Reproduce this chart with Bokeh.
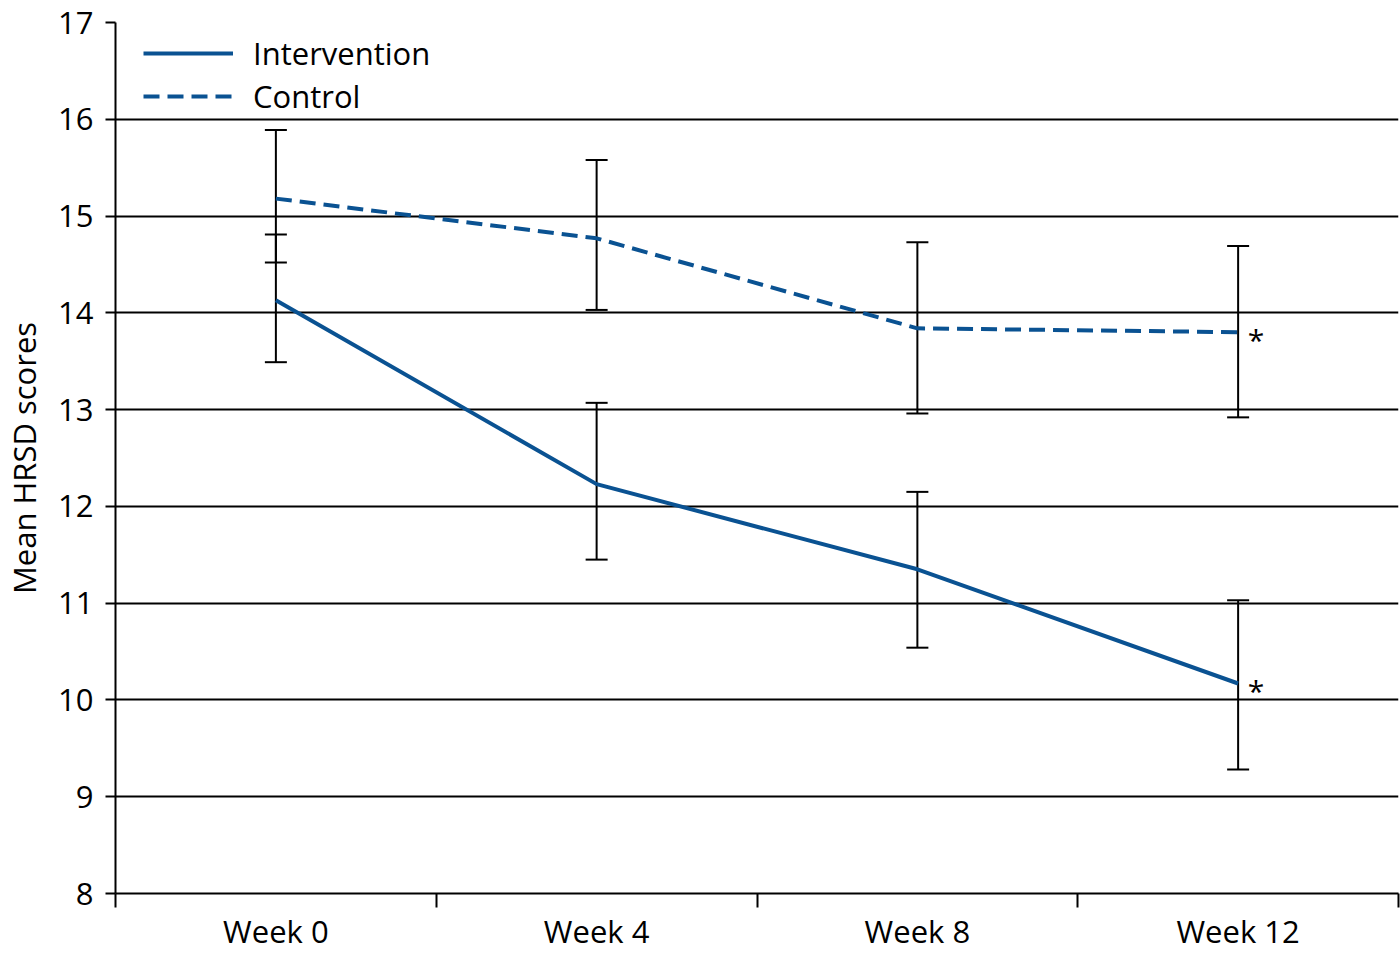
from bokeh.plotting import figure
from bokeh.models import (ColumnDataSource, Whisker, TeeHead, Range1d, FixedTicker,
                          Legend, LegendItem)
from bokeh.core.properties import value
from bokeh.embed import file_html
from bokeh.resources import INLINE

weeks = ["Week 0", "Week 4", "Week 8", "Week 12"]
intervention_mean = [14.13, 12.23, 11.35, 10.17]
intervention_low = [13.49, 11.45, 10.54, 9.28]
intervention_high = [14.81, 13.07, 12.15, 11.03]
control_mean = [15.18, 14.77, 13.84, 13.80]
control_low = [14.52, 14.03, 12.96, 12.92]
control_high = [15.89, 15.58, 14.73, 14.69]
significant = [False, False, False, True]
y_ticks = list(range(8, 18))

FONT = "Open Sans"
FS = "31px"
BLUE = "#0a5292"

xs = [i + 0.5 for i in range(len(weeks))]
bounds = list(range(len(weeks) + 1))

p = figure(width=1400, height=954, output_backend="svg", toolbar_location=None,
           x_range=Range1d(0, len(weeks)), y_range=Range1d(8, 17),
           min_border_left=115, min_border_right=2, min_border_top=22,
           min_border_bottom=59)
p.outline_line_color = None
p.background_fill_color = "white"
p.border_fill_color = "white"

src_i = ColumnDataSource(dict(x=xs, y=intervention_mean, lo=intervention_low, hi=intervention_high))
src_c = ColumnDataSource(dict(x=xs, y=control_mean, lo=control_low, hi=control_high))

r_i = p.line("x", "y", source=src_i, line_color=BLUE, line_width=4)
r_c = p.line("x", "y", source=src_c, line_color=BLUE, line_width=4, line_dash="16 8")

for src in (src_i, src_c):
    w = Whisker(source=src, base="x", upper="hi", lower="lo", line_color="black", line_width=2,
                upper_head=TeeHead(size=22, line_width=2, line_color="black"),
                lower_head=TeeHead(size=22, line_width=2, line_color="black"))
    p.add_layout(w)

sig_x = [x for x, s in zip(xs, significant) if s]
sig_y = [y for y, s in zip(intervention_mean, significant) if s] + \
        [y for y, s in zip(control_mean, significant) if s]
p.text(x=sig_x * 2, y=sig_y, text=["*"] * len(sig_y), text_font=value(FONT),
       text_font_size="30px", text_color="black", text_align="center",
       text_baseline="middle", x_offset=18, y_offset=7)

# axes
p.xaxis.ticker = FixedTicker(ticks=xs, minor_ticks=bounds)
p.xaxis.major_label_overrides = {x: w for x, w in zip(xs, weeks)}
p.xaxis.major_tick_out = 0
p.xaxis.major_tick_in = 0
p.xaxis.minor_tick_out = 14
p.xaxis.minor_tick_in = 0
p.xaxis.minor_tick_line_color = "black"
p.xaxis.minor_tick_line_width = 2
p.xaxis.axis_line_width = 2
p.xaxis.axis_line_color = "black"
p.xaxis.major_label_text_font = FONT
p.xaxis.major_label_text_font_size = FS
p.xaxis.major_label_text_color = "black"
p.xaxis.major_label_standoff = 2

p.yaxis.ticker = FixedTicker(ticks=y_ticks)
p.yaxis.minor_tick_line_color = None
p.yaxis.major_tick_out = 10
p.yaxis.major_tick_in = 0
p.yaxis.major_tick_line_width = 2
p.yaxis.major_tick_line_color = "black"
p.yaxis.axis_line_width = 2
p.yaxis.axis_line_color = "black"
p.yaxis.major_label_text_font = FONT
p.yaxis.major_label_text_font_size = FS
p.yaxis.major_label_text_color = "black"
p.yaxis.major_label_standoff = 12
p.yaxis.axis_label = "Mean HRSD scores"
p.yaxis.axis_label_text_font = FONT
p.yaxis.axis_label_text_font_size = FS
p.yaxis.axis_label_text_font_style = "normal"
p.yaxis.axis_label_text_color = "black"
p.yaxis.axis_label_standoff = 10

p.xgrid.grid_line_color = None
p.ygrid.ticker = FixedTicker(ticks=y_ticks)
p.ygrid.grid_line_color = "black"
p.ygrid.grid_line_width = 2

legend = Legend(items=[LegendItem(label="Intervention", renderers=[r_i]),
                       LegendItem(label="Control", renderers=[r_c])],
                location=(28, 776), orientation="vertical")
legend.background_fill_alpha = 0
legend.border_line_color = None
legend.glyph_width = 90
legend.glyph_height = 30
legend.label_height = 30
legend.label_standoff = 20
legend.spacing = 1
legend.padding = 5
legend.margin = 0
legend.label_text_font = FONT
legend.label_text_font_size = FS
legend.label_text_color = "black"
p.add_layout(legend)

open("out.html", "w").write(file_html(p, INLINE))
